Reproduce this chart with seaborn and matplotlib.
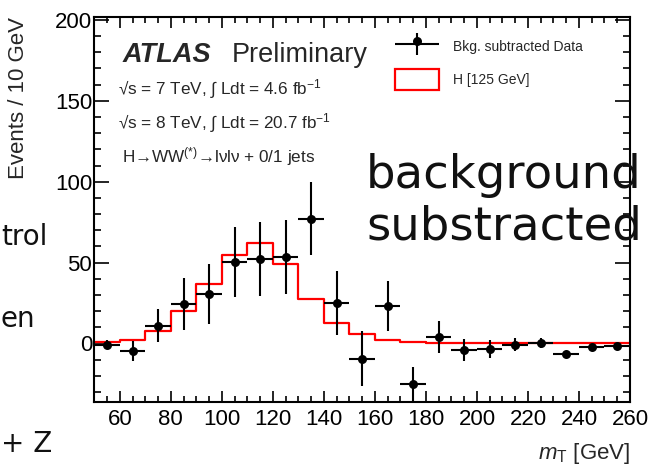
import numpy as np
import matplotlib
matplotlib.use("Agg")
import matplotlib.pyplot as plt
import seaborn as sns
from matplotlib.patches import Patch
from matplotlib.container import ErrorbarContainer
from matplotlib.legend_handler import HandlerErrorbar, HandlerTuple
from matplotlib.ticker import MultipleLocator

# ---------------- data ----------------
bin_edges = [50, 60, 70, 80, 90, 100, 110, 120, 130, 140, 150, 160, 170,
             180, 190, 200, 210, 220, 230, 240, 250, 260]
bin_centers = [55, 65, 75, 85, 95, 105, 115, 125, 135, 145, 155, 165, 175,
               185, 195, 205, 215, 225, 235, 245, 255]
data_y = [-0.9, -4.6, 11.0, 24.2, 30.8, 50.2, 52.0, 53.7, 77.2, 25.0, -9.4,
          23.4, -25.2, 4.0, -4.0, -3.4, -0.7, 0.5, -6.5, -2.0, -1.4]
data_err = [2.8, 6.0, 10.3, 16.0, 18.5, 21.7, 22.9, 22.9, 22.7, 20.0, 17.2,
            15.5, 10.6, 9.6, 6.7, 5.7, 4.0, 3.0, 1.0, 1.0, 1.0]
signal_h125 = [0.7, 2.0, 7.9, 20.3, 36.8, 54.5, 62.0, 49.1, 27.7, 12.5, 5.7,
               2.0, 0.7, 0.3, 0.3, 0.3, 0.1, 0.1, 0.1, 0.1, 0.1]
half_bin = 5

W, H = 653, 470

sns.set_theme(style="ticks")
plt.rcParams["font.family"] = ["Liberation Sans", "DejaVu Sans"]
plt.rcParams["mathtext.fontset"] = "custom"
plt.rcParams["mathtext.rm"] = "Liberation Sans"
plt.rcParams["mathtext.it"] = "Liberation Sans:italic"
plt.rcParams["mathtext.bf"] = "Liberation Sans:bold"

fig = plt.figure(figsize=(W / 100, H / 100), dpi=100)
fig.patch.set_facecolor("white")


def fx(x):
    return x / W


def fy(y):
    return 1 - y / H


L, R, T, B = 94.3, 630, 16.7, 401.7
ax = fig.add_axes([fx(L), fy(B), (R - L) / W, (B - T) / H])
ax.set_facecolor("white")

# signal histogram
sns.histplot(x=bin_centers, weights=signal_h125, bins=bin_edges,
             element="step", fill=False, color="#ff0000", linewidth=1.6,
             ax=ax, zorder=2)

# data with errors
err = ax.errorbar(bin_centers, data_y, xerr=half_bin, yerr=data_err,
                  fmt="none", ecolor="black", elinewidth=1.5, capsize=0,
                  zorder=3)
sns.scatterplot(x=bin_centers, y=data_y, color="black", s=42,
                linewidth=0, ax=ax, zorder=4, legend=False)
scatter_handle = ax.collections[-1]

ax.set_xlim(50, 260)
ax.set_ylim(-36, 202)
ax.xaxis.set_major_locator(MultipleLocator(20))
ax.xaxis.set_minor_locator(MultipleLocator(5))
ax.yaxis.set_major_locator(MultipleLocator(50))
ax.yaxis.set_minor_locator(MultipleLocator(10))
ax.tick_params(axis="both", which="both", direction="in", top=True,
               right=True, colors="black", width=1.2, labelsize=16)
ax.tick_params(axis="x", which="major", length=8, pad=5)
ax.tick_params(axis="x", which="minor", length=4.5)
ax.tick_params(axis="y", which="major", length=11, pad=1.5)
ax.tick_params(axis="y", which="minor", length=5)
for s in ax.spines.values():
    s.set_visible(True)
    s.set_linewidth(1.5)
    s.set_color("black")

ax.set_ylabel("Events / 10 GeV", fontsize=16, loc="top", labelpad=19)
ax.set_xlabel(r"$m_{\mathrm{T}}$ [GeV]", fontsize=16, loc="right",
              labelpad=8)

# legend
sig_patch = Patch(facecolor="white", edgecolor="#ff0000", linewidth=1.6)
ax.legend([(err, scatter_handle), sig_patch],
          ["Bkg. subtracted Data", "H [125 GeV]"],
          handler_map={ErrorbarContainer: HandlerErrorbar(xerr_size=1.6, yerr_size=0.78),
                       tuple: HandlerTuple(ndivide=1, pad=0)},
          loc="upper left", bbox_to_anchor=(fx(395), fy(36.5)),
          bbox_transform=fig.transFigure, frameon=False, fontsize=10,
          handlelength=3.2, handleheight=1.95, handletextpad=0.95,
          labelspacing=0.8, borderpad=0, borderaxespad=0,
          scatteryoffsets=[0.5], scatterpoints=1)

# ATLAS labels
fig.text(fx(123), fy(61.7), "ATLAS", fontsize=19.5, fontweight="bold",
         fontstyle="italic", va="baseline")
fig.text(fx(232), fy(61.7), "Preliminary", fontsize=19.5, va="baseline")
fig.text(fx(118), fy(94), "√s = 7 TeV, ∫ Ldt = 4.6 fb$^{-1}$",
         fontsize=12.3, va="baseline")
fig.text(fx(118), fy(128), "√s = 8 TeV, ∫ Ldt = 20.7 fb$^{-1}$",
         fontsize=12.3, va="baseline")
fig.text(fx(122), fy(162), "H→WW$^{(*)}$→lνlν + 0/1 jets",
         fontsize=12.3, va="baseline")

# slide overlay text
slide_font = ["DejaVu Sans"]
fig.text(fx(366), fy(188), "background", fontsize=33.5, family=slide_font,
         va="baseline", color="#111111", zorder=10)
fig.text(fx(366), fy(239.3), "substracted", fontsize=33.5, family=slide_font,
         va="baseline", color="#111111", zorder=10)
fig.text(fx(1), fy(245), "trol", fontsize=20, family=slide_font,
         va="baseline", ha="left", color="#111111")
fig.text(fx(1), fy(326.7), "en", fontsize=20, family=slide_font,
         va="baseline", ha="left", color="#111111")
fig.text(fx(1), fy(452), "+ Z", fontsize=20, family=slide_font,
         va="baseline", ha="left", color="#111111")

fig.savefig("out.png", dpi=100, facecolor="white")
